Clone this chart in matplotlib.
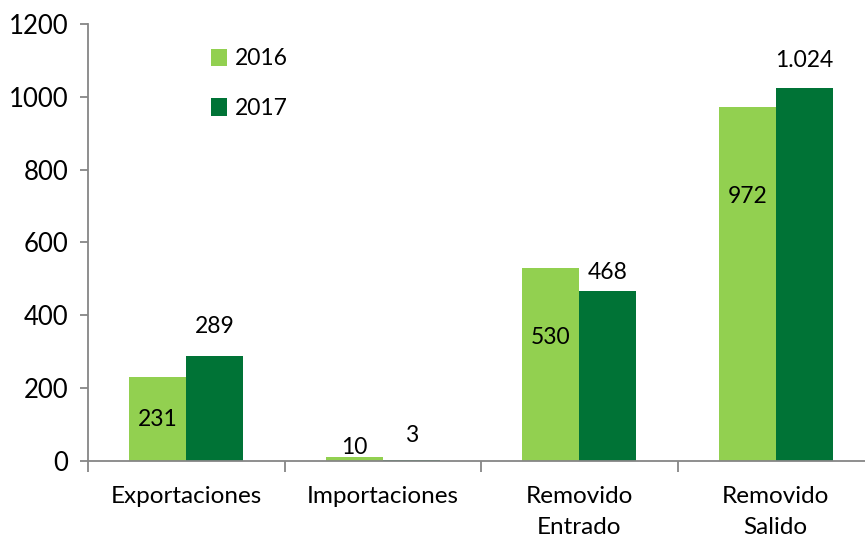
import numpy as np
import matplotlib
matplotlib.use("Agg")
from matplotlib import pyplot as plt

plt.rcParams['font.family'] = ['Lato', 'DejaVu Sans']

categorias = ["Exportaciones", "Importaciones", "Removido\nEntrado", "Removido\nSalido"]
valores_2016 = [231, 10, 530, 972]
valores_2017 = [289, 3, 468, 1024]
etiquetas_2016 = ["231", "10", "530", "972"]
etiquetas_2017 = ["289", "3", "468", "1.024"]

color_2016 = "#92D050"
color_2017 = "#007336"
gris = "#868686"

fig = plt.figure(figsize=(8.65, 5.40), dpi=100)
ax = fig.add_axes([88 / 865, 79 / 540, 786 / 865, 437 / 540])

x = np.arange(len(categorias))
w = 0.29
ax.bar(x - w / 2, valores_2016, w, color=color_2016, label="2016")
ax.bar(x + w / 2, valores_2017, w, color=color_2017, label="2017")

# data labels were placed by hand in the original chart
pos_2016 = [115, 38, 338, 725]
pos_2017 = [370, 69, 517, 1100]
for xi, y, t in zip(x - w / 2, pos_2016, etiquetas_2016):
    ax.text(xi, y, t, ha="center", va="center", fontsize=16.5)
for xi, y, t in zip(x + w / 2, pos_2017, etiquetas_2017):
    ax.text(xi, y, t, ha="center", va="center", fontsize=16.5)

ax.set_xlim(-0.5, 3.5)
ax.set_ylim(0, 1200)
ax.set_yticks(range(0, 1201, 200))
ax.tick_params(axis="y", labelsize=18.5, color=gris, length=6, width=1.3, pad=8)

ax.set_xticks(np.arange(-0.5, 4, 1))
ax.set_xticklabels([])
ax.set_xticks(x, minor=True)
ax.set_xticklabels(categorias, minor=True, fontsize=17.5, linespacing=1.6)
ax.tick_params(axis="x", which="major", color=gris, length=8, width=1.3)
ax.tick_params(axis="x", which="minor", length=0, pad=18)

for s in ["top", "right"]:
    ax.spines[s].set_visible(False)
for s in ["left", "bottom"]:
    ax.spines[s].set_color(gris)
    ax.spines[s].set_linewidth(1.3)

ax.legend(loc="upper left", bbox_to_anchor=(0.145, 0.965), frameon=False,
          fontsize=16.5, handlelength=0.7, handleheight=0.8, handletextpad=0.35,
          labelspacing=1.25, borderaxespad=0)

fig.savefig("out.png", dpi=100)
